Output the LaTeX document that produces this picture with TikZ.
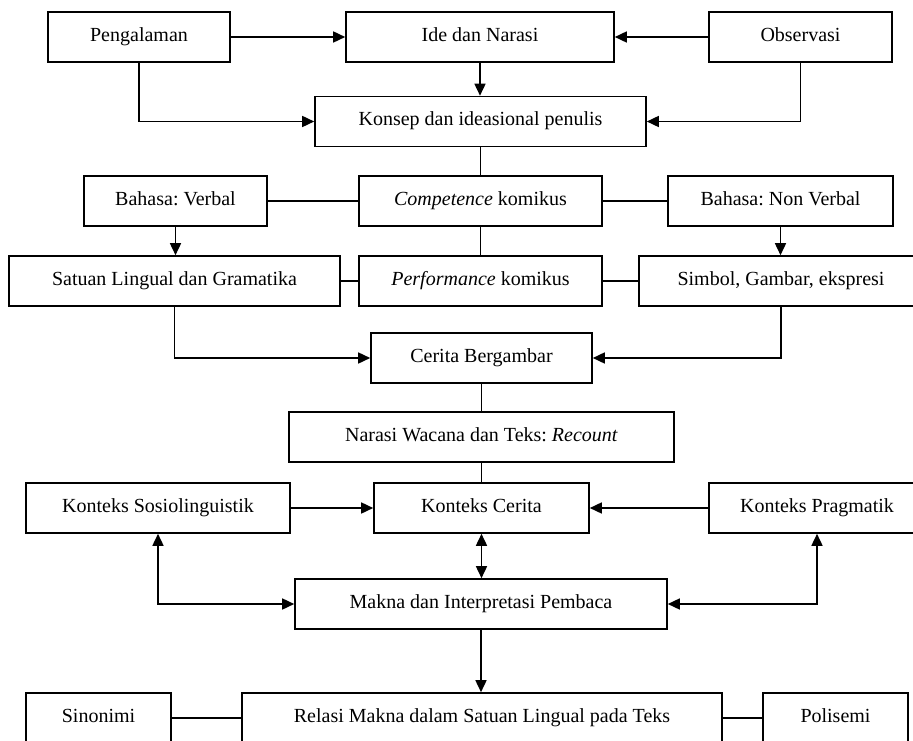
\documentclass[tikz,border=0pt]{standalone}
\usepackage{fontspec}
\setmainfont{Liberation Serif}
\usetikzlibrary{arrows.meta}
\frenchspacing
\begin{document}
\begin{tikzpicture}[x=1pt,y=-1pt,
  box/.style={draw, line width=1.6pt, minimum height=50pt, inner sep=0pt,
    text height=13.5pt, text depth=4.5pt,
    align=center, font=\fontsize{20}{24}\selectfont},
  link/.style={line width=1.6pt},
  arr/.style={link, -{Triangle[length=12pt,width=11pt]}},
  darr/.style={link, {Triangle[length=12pt,width=11pt]}-{Triangle[length=12pt,width=11pt]}}]
\useasboundingbox (0,0) rectangle (913,741);
% top row
\node[box, minimum width=182pt] (peng) at (139,37) {Pengalaman};
\node[box, minimum width=268pt] (ide) at (480,37) {Ide dan Narasi};
\node[box, minimum width=183pt] (obs) at (800.5,37) {Observasi};
\node[box, minimum width=331pt] (konsep) at (480.5,121.5) {Konsep dan ideasional penulis};
% competence / performance rows
\node[box, minimum width=183pt] (verbal) at (175.5,201) {Bahasa: Verbal};
\node[box, minimum width=243pt] (comp) at (480.5,201) {\textit{Competence} komikus};
\node[box, minimum width=225pt] (nonverbal) at (780.5,201) {Bahasa: Non Verbal};
\node[box, minimum width=331pt] (satuan) at (174.5,281) {Satuan Lingual dan Gramatika};
\node[box, minimum width=243pt] (perf) at (480.5,281) {\textit{Performance} komikus};
\node[box, minimum width=284pt] (simbol) at (781,281) {Simbol, Gambar, ekspresi};
% story
\node[box, minimum width=221pt] (cerita) at (481.5,358) {Cerita Bergambar};
\node[box, minimum width=385pt] (narasi) at (481.5,437) {Narasi Wacana dan Teks: \textit{Recount}};
% contexts
\node[box, minimum width=264pt] (sosio) at (158,508) {Konteks Sosiolinguistik};
\node[box, minimum width=215pt] (kcerita) at (481.5,508) {Konteks Cerita};
\node[box, minimum width=216pt] (prag) at (817,508) {Konteks Pragmatik};
\node[box, minimum width=372pt] (makna) at (481,604) {Makna dan Interpretasi Pembaca};
% meaning relations
\node[box, minimum width=145pt] (sinonimi) at (98.5,718) {Sinonimi};
\node[box, minimum width=480pt] (relasi) at (482,718) {Relasi Makna dalam Satuan Lingual pada Teks};
\node[box, minimum width=145pt] (polisemi) at (835.5,718) {Polisemi};

% connectors
\draw[arr] (peng.east) -- (ide.west);
\draw[arr] (obs.west) -- (ide.east);
\draw[arr] (ide.south) -- (ide.south |- konsep.north);
\draw[arr] (peng.south) |- (konsep.west);
\draw[arr] (obs.south) |- (konsep.east);
\draw[link] (konsep.south) -- (konsep.south |- comp.north);
\draw[link] (verbal.east) -- (comp.west);
\draw[link] (comp.east) -- (nonverbal.west);
\draw[arr] (verbal.south) -- (verbal.south |- satuan.north);
\draw[arr] (nonverbal.south) -- (nonverbal.south |- simbol.north);
\draw[link] (comp.south) -- (perf.north);
\draw[link] (satuan.east) -- (perf.west);
\draw[link] (perf.east) -- (simbol.west);
\draw[arr] (satuan.south) |- (cerita.west);
\draw[arr] (simbol.south) |- (cerita.east);
\draw[link] (cerita.south) -- (cerita.south |- narasi.north);
\draw[link] (narasi.south) -- (narasi.south |- kcerita.north);
\draw[arr] (sosio.east) -- (kcerita.west);
\draw[arr] (prag.west) -- (kcerita.east);
\draw[darr] (kcerita.south) -- (kcerita.south |- makna.north);
\draw[darr] (sosio.south) |- (makna.west);
\draw[darr] (prag.south) |- (makna.east);
\draw[arr] (makna.south) -- (makna.south |- relasi.north);
\draw[link] (sinonimi.east) -- (relasi.west);
\draw[link] (relasi.east) -- (polisemi.west);
\end{tikzpicture}
\end{document}
